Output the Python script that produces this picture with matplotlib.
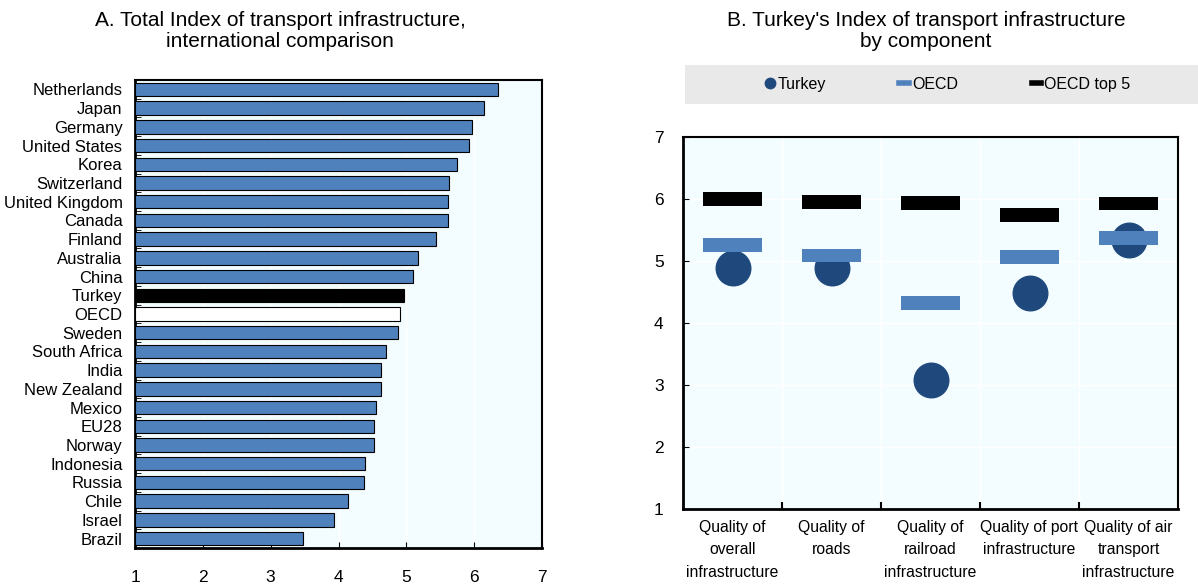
import matplotlib.pyplot as plt
from matplotlib.lines import Line2D
import numpy as np

plt.rcParams['font.family'] = ['Liberation Sans', 'DejaVu Sans']
plt.rcParams['font.size'] = 12

# Panel A: total index by country
countries = ["Netherlands", "Japan", "Germany", "United States", "Korea", "Switzerland",
             "United Kingdom", "Canada", "Finland", "Australia", "China", "Turkey", "OECD",
             "Sweden", "South Africa", "India", "New Zealand", "Mexico", "EU28", "Norway",
             "Indonesia", "Russia", "Chile", "Israel", "Brazil"]
total_index = [6.35, 6.14, 5.97, 5.92, 5.75, 5.63, 5.62, 5.61, 5.44, 5.17, 5.10, 4.96, 4.90,
               4.87, 4.70, 4.63, 4.62, 4.56, 4.53, 4.53, 4.39, 4.38, 4.14, 3.93, 3.48]

# Panel B: components
components = ["Quality of\noverall\ninfrastructure", "Quality of\nroads",
              "Quality of\nrailroad\ninfrastructure", "Quality of port\ninfrastructure",
              "Quality of air\ntransport\ninfrastructure"]
turkey = [4.89, 4.88, 3.08, 4.49, 5.34]
oecd = [5.26, 5.09, 4.32, 5.06, 5.37]
oecd_top5 = [6.00, 5.95, 5.94, 5.74, 5.93]

bg = '#F3FDFF'
blue = '#4F81BD'
navy = '#1F497D'

W, H = 1198, 585
fig = plt.figure(figsize=(W / 100, H / 100), dpi=100)

# ---- Panel A
ax1 = fig.add_axes([135 / W, 1 - 548 / H, 407 / W, 468 / H])
ax1.set_facecolor(bg)
y = np.arange(len(countries))[::-1]
colors = [blue] * len(countries)
colors[countries.index("Turkey")] = 'black'
colors[countries.index("OECD")] = 'white'
ax1.barh(y, np.array(total_index) - 1, left=1, height=0.72, color=colors,
         edgecolor='black', linewidth=0.8, zorder=3)
ax1.set_xlim(1, 7)
ax1.set_ylim(-0.5, len(countries) - 0.5)
ax1.set_yticks(y)
ax1.set_yticklabels(countries)
ax1.set_yticks(np.arange(-0.5, len(countries) - 0.5, 1), minor=True)
ax1.tick_params(axis='y', which='major', length=0, pad=9)
ax1.tick_params(axis='y', which='minor', direction='in', length=4)
ax1.set_xticks(range(1, 8))
ax1.tick_params(axis='x', direction='in', length=4, pad=16, labelsize=12.5)
ax1.grid(axis='x', color='white', linewidth=1, zorder=0)
for s in ax1.spines.values():
    s.set_linewidth(1.5)
ax1.spines['left'].set_linewidth(2)
ax1.spines['bottom'].set_linewidth(2)
fig.text(280 / W, 1 - 31 / H, "A. Total Index of transport infrastructure,\ninternational comparison",
         ha='center', va='center', fontsize=15, linespacing=1.15)

# ---- Panel B
ax2 = fig.add_axes([683 / W, 1 - 509 / H, 495 / W, 372 / H])
ax2.set_facecolor(bg)
x = np.arange(len(components))
ax2.scatter(x, turkey, s=620, color=navy, zorder=3)
hb = 0.22
ax2.bar(x, hb, bottom=np.array(oecd) - hb / 2, width=0.6, color=blue, zorder=4)
ax2.bar(x, hb, bottom=np.array(oecd_top5) - hb / 2, width=0.6, color='black', zorder=5)
ax2.set_xlim(-0.5, len(components) - 0.5)
ax2.set_ylim(1, 7)
ax2.set_yticks(range(1, 8))
ax2.set_xticks(x)
ax2.set_xticklabels(components, linespacing=1.6, fontsize=11.3)
ax2.set_xticks(np.arange(0.5, len(components) - 0.5, 1), minor=True)
ax2.tick_params(axis='x', which='major', length=0, pad=8)
ax2.tick_params(axis='x', which='minor', direction='in', length=5, width=1.5)
ax2.tick_params(axis='y', direction='in', length=4, pad=14, labelsize=12.5)
ax2.grid(axis='y', color='white', linewidth=1, zorder=0)
ax2.grid(axis='x', which='minor', color='white', linewidth=1, zorder=0)
for s in ax2.spines.values():
    s.set_linewidth(1.5)
ax2.spines['left'].set_linewidth(2)
ax2.spines['bottom'].set_linewidth(2)
fig.text(926 / W, 1 - 31 / H, "B. Turkey's Index of transport infrastructure\nby component",
         ha='center', va='center', fontsize=15, linespacing=1.15)

# legend strip
lax = fig.add_axes([685 / W, 1 - 104 / H, (W - 685) / W, 39 / H])
lax.set_facecolor('#E9E9E9')
lax.set_xticks([])
lax.set_yticks([])
for s in lax.spines.values():
    s.set_visible(False)
handles = [Line2D([], [], marker='o', linestyle='none', markersize=7.5, color=navy),
           Line2D([], [], color=blue, linewidth=4),
           Line2D([], [], color='black', linewidth=4)]
lax.legend(handles, ["Turkey", "OECD", "OECD top 5"], loc='center', ncol=3,
           frameon=False, handlelength=0.6, handletextpad=0.2, columnspacing=4.6,
           fontsize=11.5, bbox_to_anchor=(0.512, 0.5))

fig.savefig('out.png', dpi=100)
